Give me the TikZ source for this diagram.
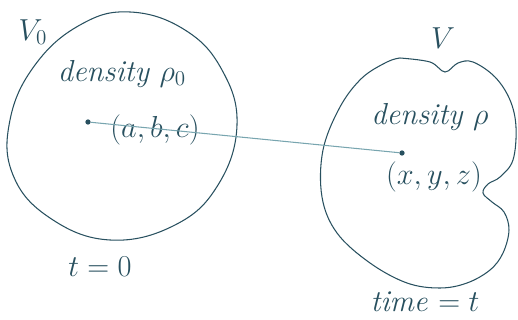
\documentclass[tikz,border=0pt]{standalone}
\usetikzlibrary{positioning}
\definecolor{ink}{RGB}{40,80,95}
\definecolor{pencil}{RGB}{120,165,175}
\begin{document}
\begin{tikzpicture}[
  x=0.02cm, y=-0.02cm,
  blob/.style={draw=ink, line width=0.6pt},
  label/.style={font=\LARGE\itshape, text=ink, inner sep=1pt},
  path/.style={draw=pencil, line width=0.6pt},
  dot/.style={circle, fill=ink, inner sep=0pt, minimum size=3pt}
]
\useasboundingbox (0,0) rectangle (518,320);

% Initial volume
\draw[blob] plot[smooth cycle, tension=0.7] coordinates {
  (80,25) (35,65) (10,120) (13,175) (50,218) (110,240)
  (175,225) (218,185) (237,125) (222,70) (185,30) (130,12)};
\node[label] (v0) at (33,32) {$V_0$};
\node[label] (rho0) at (122,74) {density $\rho_0$};
\node[dot] (p0) at (88,122) {};
\node[label] (abc) at (155,130) {$(a,b,c)$};
\node[label] (t0) at (100,267) {$t=0$};

% Volume at time t
\draw[blob] plot[smooth, tension=0.6] coordinates {
  (400,58) (430,62) (445,72) (458,63) (473,62) (495,77)
  (510,100) (516,127) (513,160) (500,177) (488,184) (483,193)
  (492,202) (504,212) (509,230) (503,253) (490,270) (467,283)
  (440,288) (407,283) (370,263) (337,233) (322,197) (323,150)
  (340,107) (362,78) (387,62) (400,58)};
\node[label] (v) at (443,38) {$V$};
\node[label] (rho) at (430,117) {density $\rho$};
\node[dot] (p) at (402,153) {};
\node[label] (xyz) at (434,177) {$(x,y,z)$};
\node[label] (tt) at (425,302) {time $=t$};

% Particle path
\draw[path] (p0) -- (p);

\end{tikzpicture}
\end{document}
